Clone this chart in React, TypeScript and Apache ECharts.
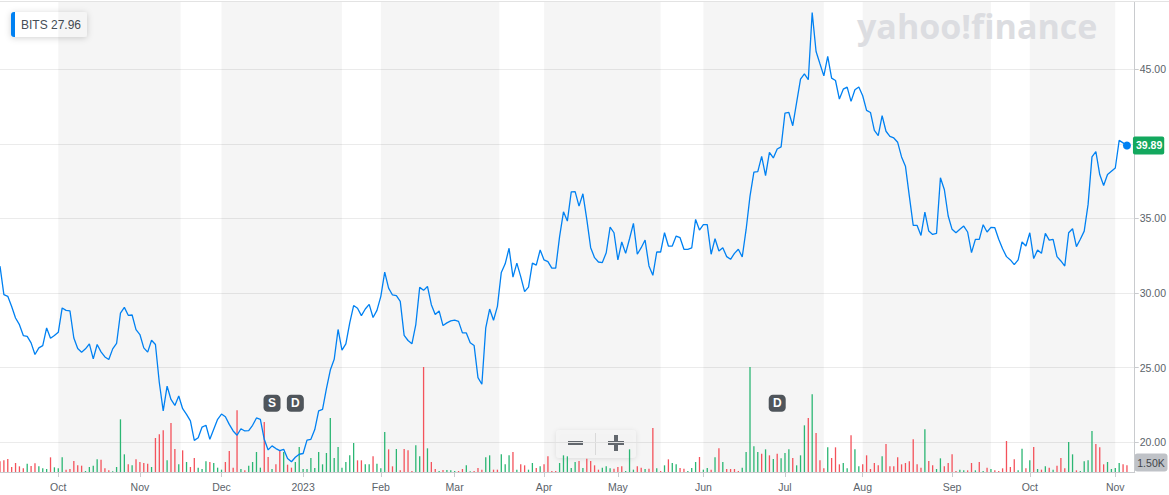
import React, { useEffect, useRef } from "react";
import * as echarts from "echarts";

// ---------- data ----------
const TICKER = "BITS";
const LEGEND_PRICE = "27.96";
const AVG_VOLUME_LABEL = "1.50K";
const START_DATE = "2022-09-12";
const CATEGORY_COUNT = 293;
const HOLIDAYS = [
  "2022-11-24", "2022-12-26", "2023-01-02", "2023-01-16", "2023-02-20",
  "2023-04-07", "2023-05-29", "2023-06-19", "2023-07-04", "2023-09-04",
];
const MONTH_NAMES = ["Jan", "Feb", "Mar", "Apr", "May", "Jun", "Jul", "Aug", "Sep", "Oct", "Nov", "Dec"];
const PRICE_TICKS = [20, 25, 30, 35, 40, 45];
const PRICE_AXIS_MIN = 18.01;
const PRICE_AXIS_MAX = 49.5;
const VOLUME_AXIS_MAX = 70.5; // thousands

const prices = [
  31.8, 29.89, 29.78, 29.1, 28.33, 27.88, 27.15, 27.1, 26.66, 25.88,
  26.33, 26.48, 27.66, 26.97, 27.15, 27.37, 29.0, 28.84, 28.8, 26.99,
  26.28, 26.04, 26.26, 26.6, 25.59, 26.55, 26.06, 25.72, 25.55, 26.26,
  26.62, 28.66, 29.04, 28.51, 28.53, 27.55, 27.22, 26.33, 26.04, 26.84,
  26.55, 23.99, 22.1, 23.76, 22.87, 22.47, 23.1, 22.25, 21.87, 21.43,
  20.13, 20.31, 21.02, 21.14, 20.2, 20.87, 21.54, 21.89, 21.71, 21.2,
  20.76, 20.47, 20.91, 20.76, 20.78, 21.14, 21.63, 21.54, 20.2, 19.49,
  19.76, 19.58, 19.44, 19.53, 18.91, 18.7, 19.0, 19.2, 19.25, 20.15,
  20.2, 20.85, 22.1, 22.2, 23.6, 24.84, 25.56, 27.56, 26.18, 26.6,
  28.0, 29.16, 28.98, 28.49, 28.93, 29.24, 28.36, 28.84, 29.78, 31.4,
  30.33, 29.87, 29.82, 29.44, 27.16, 26.82, 26.6, 27.89, 30.38, 30.18,
  30.44, 29.22, 28.56, 28.8, 27.82, 28.0, 28.13, 28.18, 28.1, 27.33,
  27.33, 26.67, 26.49, 24.33, 23.89, 27.67, 28.93, 28.18, 29.11, 31.38,
  31.96, 33.0, 31.07, 32.0, 31.1, 30.1, 30.4, 32.0, 31.87, 32.89,
  32.22, 32.11, 31.67, 31.67, 33.78, 35.44, 34.82, 36.78, 36.8, 35.82,
  36.65, 34.93, 33.04, 32.37, 32.08, 32.04, 32.7, 34.42, 34.04, 32.22,
  33.42, 32.66, 33.64, 34.67, 32.6, 33.04, 33.55, 31.82, 31.19, 32.75,
  32.75, 34.04, 33.15, 33.15, 33.82, 33.71, 32.93, 32.93, 33.02, 34.93,
  34.22, 34.58, 34.58, 32.6, 33.64, 32.82, 33.04, 32.44, 32.26, 32.66,
  32.93, 32.42, 34.26, 36.49, 38.1, 38.14, 39.16, 37.87, 39.43, 39.05,
  39.65, 39.79, 42.06, 42.1, 41.21, 42.77, 44.33, 44.69, 44.29, 48.79,
  46.18, 45.36, 44.55, 45.85, 44.4, 44.24, 43.0, 43.66, 43.8, 42.84,
  43.62, 43.8, 43.22, 42.24, 42.1, 40.9, 40.55, 41.88, 40.84, 40.5,
  40.39, 40.1, 39.12, 38.5, 36.49, 34.53, 34.53, 33.86, 35.42, 34.15,
  33.93, 34.0, 37.72, 36.94, 35.16, 34.27, 34.04, 34.27, 34.49, 34.09,
  32.71, 33.6, 33.6, 34.58, 34.09, 34.4, 34.38, 33.6, 32.97, 32.44,
  32.22, 31.9, 32.22, 33.42, 33.15, 34.04, 32.31, 32.89, 32.66, 34.0,
  33.55, 33.6, 32.44, 32.15, 31.81, 34.04, 34.31, 33.11, 33.6, 34.15,
  35.94, 39.12, 39.48, 37.94, 37.2, 37.94, 38.16, 38.38, 40.23, 40.06,
  39.89,
];

// volume in thousands of shares
const volumes = [
  1.6, 1.75, 1.95, 0.75, 1.35, 0.85, 0.55, 1.25, 0.9, 1.3,
  0.85, 0.55, 0.45, 2.2, 0.7, 0.55, 2.2, 0.35, 0.45, 1.65,
  1.0, 0.95, 0.15, 0.75, 0.95, 1.9, 1.85, 0.55, 0.25, 0.1,
  0.75, 7.9, 2.65, 1.15, 1.0, 1.9, 1.5, 1.35, 1.25, 0.75,
  5.1, 5.65, 6.25, 1.75, 7.35, 3.45, 1.15, 3.25, 1.5, 0.75,
  2.1, 0.65, 0.45, 1.6, 1.5, 1.35, 0.65, 0.35, 1.5, 3.15,
  0.65, 9.25, 0.45, 0.25, 0.95, 1.5, 3.0, 0.65, 7.5, 2.25,
  0.45, 1.15, 3.15, 3.0, 1.1, 0.65, 1.5, 3.75, 0.45, 0.45,
  2.1, 0.6, 3.0, 1.15, 2.85, 8.1, 2.1, 3.75, 0.65, 1.5,
  2.5, 4.35, 1.75, 1.75, 1.15, 1.15, 2.35, 1.25, 0.55, 6.0,
  3.4, 0.85, 3.45, 0.25, 3.45, 3.25, 0.15, 4.0, 2.35, 15.75,
  3.55, 1.5, 0.45, 0.15, 0.3, 0.3, 0.25, 0.15, 0.15, 0.45,
  1.0, 0.1, 0.15, 0.6, 0.35, 2.2, 2.5, 0.35, 0.35, 2.65,
  1.15, 2.5, 3.0, 0.35, 1.15, 1.0, 0.35, 1.35, 0.6, 0.85,
  1.15, 2.35, 0.15, 0.15, 1.35, 2.5, 2.35, 0.6, 1.5, 1.65,
  0.6, 2.0, 1.65, 1.0, 0.35, 0.65, 0.85, 0.55, 0.5, 0.75,
  0.85, 0.15, 3.4, 0.35, 0.85, 0.65, 0.45, 0.5, 6.6, 0.55,
  0.15, 1.0, 1.9, 1.35, 1.15, 0.6, 0.5, 0.15, 0.6, 1.5,
  2.25, 0.35, 0.6, 0.35, 2.2, 3.55, 1.5, 0.45, 0.45, 0.45,
  0.15, 0.65, 3.0, 15.75, 3.85, 3.0, 2.75, 3.4, 2.5, 1.95,
  2.75, 2.05, 2.85, 3.4, 2.1, 1.0, 2.5, 7.0, 8.1, 11.65,
  5.85, 1.75, 0.55, 3.7, 2.1, 3.7, 1.15, 1.35, 0.55, 5.5,
  3.4, 0.85, 1.15, 2.5, 0.45, 1.35, 1.0, 2.35, 4.2, 0.85,
  0.85, 2.2, 1.15, 1.35, 1.6, 4.9, 1.15, 0.65, 6.4, 1.65,
  1.0, 0.45, 2.05, 0.85, 1.35, 2.65, 0.15, 0.35, 0.25, 0.25,
  1.35, 0.25, 1.5, 0.15, 0.65, 0.45, 0.25, 0.15, 0.55, 4.65,
  0.75, 1.9, 0.25, 3.5, 0.55, 1.75, 3.75, 0.45, 0.35, 0.85,
  0.65, 0.35, 0.95, 2.1, 0.55, 4.5, 2.65, 0.25, 0.15, 1.6,
  1.75, 6.15, 4.2, 3.7, 1.15, 1.5, 0.45, 0.6, 1.35, 1.15,
  1.0,
];

// "g" = up day (green bar), "r" = down day (red bar)
const volumeDirections = (
  "rrrrrrrgrr" + "gggrgggrrr" + "rrggggrrrg" + "gggrgrrrrg" + "rrrgrrgrgr" +
  "rgggrgggrr" + "rrgrggggrr" + "grrgrrgggg" + "gggggggggg" + "ggrrggrggg" +
  "rrgrrrrggr" + "grrgrgggrr" + "ggrrrggrrg" + "ggrgrrggrg" + "rrrrgggggr" +
  "grrrrgggrr" + "rgggrrgrrg" + "rgrggrrggg" + "rggrgrgrrr" + "rgggggrgrg" +
  "rgggrgggrg" + "rrrgrrrggr" + "ggrrrrrgrr" + "rrrrrrrrgr" + "rggrrrrggr" +
  "rgrgrgrrrr" + "rrggrgrgrg" + "rgrrrggrgg" + "ggrrrggggr" + "r"
).split("");

const eventIndices = [70, 76, 200];
const eventLabels = ["S", "D", "D"];
const EVENT_MARKER_LEVEL = 10.3; // on the volume scale

// ---------- helpers ----------
function buildTradingDays(start: string, count: number, holidays: string[]): string[] {
  const out: string[] = [];
  let t = new Date(start + "T00:00:00Z").getTime();
  while (out.length < count) {
    const d = new Date(t);
    const dow = d.getUTCDay();
    const s = d.toISOString().slice(0, 10);
    if (dow !== 0 && dow !== 6 && holidays.indexOf(s) < 0) out.push(s);
    t += 86400000;
  }
  return out;
}

const categories = buildTradingDays(START_DATE, CATEGORY_COUNT, HOLIDAYS);
const monthStarts: number[] = [];
for (let i = 1; i < categories.length; i++) {
  if (categories[i].slice(5, 7) !== categories[i - 1].slice(5, 7)) monthStarts.push(i);
}
const monthStartSet = new Set(monthStarts);
const shadedBands: [number, number][] = [];
for (let k = 0; k + 1 < monthStarts.length; k += 2) shadedBands.push([monthStarts[k], monthStarts[k + 1]]);

const FONT = "'Liberation Sans', Arial, Helvetica, sans-serif";
const AXIS_TEXT = "#5b636a";
const AXIS_LINE = "#c9cbce";
const LINE_BLUE = "#0081f2";
const UP_GREEN = "#2bb673";
const DOWN_RED = "#f4525b";
const BUTTON_GLYPH = "#676c72";

function buildOption(): any {
  const last = prices.length - 1;
  const lastPrice = prices[last];
  const isPriceTick = (v: number) => PRICE_TICKS.some((t) => Math.abs(t - v) < 1e-6);
  return {
    animation: false,
    backgroundColor: "#ffffff",
    textStyle: { fontFamily: FONT },
    grid: { left: 0, right: 32, top: 2, height: 470 },
    xAxis: {
      type: "category",
      data: categories,
      boundaryGap: false,
      axisLine: { lineStyle: { color: AXIS_LINE, width: 1 } },
      axisTick: {
        interval: (i: number) => monthStartSet.has(i),
        length: 5,
        lineStyle: { color: AXIS_LINE },
      },
      axisLabel: {
        interval: (i: number) => monthStartSet.has(i),
        formatter: (v: string) => {
          const m = parseInt(v.slice(5, 7), 10);
          return m === 1 ? v.slice(0, 4) : MONTH_NAMES[m - 1];
        },
        color: AXIS_TEXT,
        fontSize: 10.5,
        fontFamily: FONT,
        margin: 9,
      },
      splitLine: { show: false },
    },
    yAxis: [
      {
        type: "value",
        position: "right",
        min: PRICE_AXIS_MIN,
        max: PRICE_AXIS_MAX,
        splitNumber: 5,
        axisLine: { show: true, lineStyle: { color: AXIS_LINE } },
        axisTick: {
          show: true,
          length: 4,
          lineStyle: { color: AXIS_LINE },
          customValues: PRICE_TICKS,
        },
        axisLabel: {
          customValues: PRICE_TICKS,
          formatter: (v: number) =>
            !isPriceTick(v) || Math.abs(v - lastPrice) < 0.8 ? "" : v.toFixed(2),
          color: AXIS_TEXT,
          fontSize: 10.5,
          fontFamily: FONT,
          margin: 5,
        },
        splitLine: { show: true, lineStyle: { color: "#ebebeb", width: 1 } },
      },
      {
        type: "value",
        position: "right",
        min: 0,
        max: VOLUME_AXIS_MAX,
        show: false,
        splitLine: { show: false },
      },
    ],
    series: [
      {
        type: "bar",
        yAxisIndex: 1,
        barWidth: 1.3,
        silent: true,
        z: 1,
        data: volumes.map((v, i) => ({
          value: v,
          itemStyle: { color: volumeDirections[i] === "g" ? UP_GREEN : DOWN_RED },
        })),
        markArea: {
          silent: true,
          itemStyle: { color: "rgba(0,0,0,0.04)" },
          data: shadedBands.map(([a, b]) => [{ xAxis: categories[a] }, { xAxis: categories[b] }]),
        },
      },
      {
        type: "line",
        yAxisIndex: 0,
        data: prices,
        symbol: "none",
        silent: true,
        z: 3,
        lineStyle: { color: LINE_BLUE, width: 1.3 },
      },
      {
        type: "scatter",
        yAxisIndex: 0,
        z: 4,
        silent: true,
        symbol: "circle",
        symbolSize: 8,
        itemStyle: { color: LINE_BLUE, opacity: 1 },
        data: [[categories[last], lastPrice]],
        label: {
          show: true,
          position: "right",
          distance: 2,
          formatter: () => lastPrice.toFixed(2),
          backgroundColor: "#13a85e",
          color: "#ffffff",
          fontWeight: "bold",
          fontSize: 10.5,
          fontFamily: FONT,
          padding: [4, 2, 3, 3],
          borderRadius: 2,
        },
      },
      {
        type: "scatter",
        yAxisIndex: 1,
        z: 5,
        silent: true,
        symbol: "roundRect",
        symbolSize: 17,
        itemStyle: { color: "#4f555b", opacity: 1 },
        data: eventIndices.map((idx, k) => ({
          value: [categories[idx], EVENT_MARKER_LEVEL],
          label: { formatter: eventLabels[k] },
        })),
        label: {
          show: true,
          position: "inside",
          color: "#ffffff",
          fontWeight: "bold",
          fontSize: 12,
          fontFamily: FONT,
        },
      },
    ],
    graphic: [
      {
        type: "line",
        z: 10,
        silent: true,
        shape: { x1: 0, y1: 1.5, x2: 1169, y2: 1.5 },
        style: { stroke: "#e3e3e3", lineWidth: 1 },
      },
      {
        type: "text",
        z: 2,
        silent: true,
        x: 857,
        y: 26,
        style: {
          text: "yahoo!finance",
          fill: "#dcdde1",
          font: "bold 34px 'Open Sans', 'Noto Sans', sans-serif",
          verticalAlign: "middle",
        },
      },
      {
        type: "group",
        z: 20,
        silent: true,
        children: [
          {
            type: "rect",
            shape: { x: 11, y: 12, width: 76, height: 25, r: 3 },
            style: { fill: "#ffffff", shadowBlur: 6, shadowColor: "rgba(0,0,0,0.18)", shadowOffsetY: 1 },
          },
          {
            type: "rect",
            shape: { x: 11, y: 12, width: 4, height: 25, r: [3, 0, 0, 3] },
            style: { fill: LINE_BLUE },
          },
          {
            type: "text",
            x: 21,
            y: 24.7,
            style: { text: TICKER, fill: "#464e56", font: `12px ${FONT}`, verticalAlign: "middle" },
          },
          {
            type: "text",
            x: 51,
            y: 24.7,
            style: { text: LEGEND_PRICE, fill: "#464e56", font: `12px ${FONT}`, verticalAlign: "middle" },
          },
        ],
      },
      {
        type: "group",
        z: 20,
        silent: true,
        children: [
          {
            type: "rect",
            shape: { x: 556, y: 430, width: 80, height: 28, r: 4 },
            style: { fill: "rgba(255,255,255,0.85)", shadowBlur: 5, shadowColor: "rgba(0,0,0,0.12)", shadowOffsetY: 1 },
          },
          { type: "rect", shape: { x: 568, y: 441, width: 15, height: 4 }, style: { fill: BUTTON_GLYPH } },
          { type: "rect", shape: { x: 608, y: 441, width: 16, height: 4 }, style: { fill: BUTTON_GLYPH } },
          { type: "rect", shape: { x: 614, y: 435, width: 4, height: 16 }, style: { fill: BUTTON_GLYPH } },
          {
            type: "line",
            shape: { x1: 595.5, y1: 433, x2: 595.5, y2: 455 },
            style: { stroke: "#e2e2e2", lineWidth: 1 },
          },
        ],
      },
      {
        type: "group",
        z: 20,
        silent: true,
        children: [
          {
            type: "rect",
            shape: { x: 1134.5, y: 453.5, width: 33, height: 18, r: 3 },
            style: { fill: "#bfc2c7" },
          },
          {
            type: "text",
            x: 1151,
            y: 462.5,
            style: {
              text: AVG_VOLUME_LABEL,
              fill: "#3f444a",
              font: `10.5px ${FONT}`,
              align: "center",
              verticalAlign: "middle",
            },
          },
        ],
      },
    ],
  };
}

export default function App() {
  const ref = useRef<HTMLDivElement>(null);
  useEffect(() => {
    if (!ref.current) return;
    const chart = echarts.init(ref.current, null, { renderer: "svg" });
    chart.setOption(buildOption());
    return () => chart.dispose();
  }, []);
  return (
    <div
      ref={ref}
      style={{ position: "fixed", left: 0, top: 0, width: 1169, height: 495, background: "#ffffff" }}
    />
  );
}
